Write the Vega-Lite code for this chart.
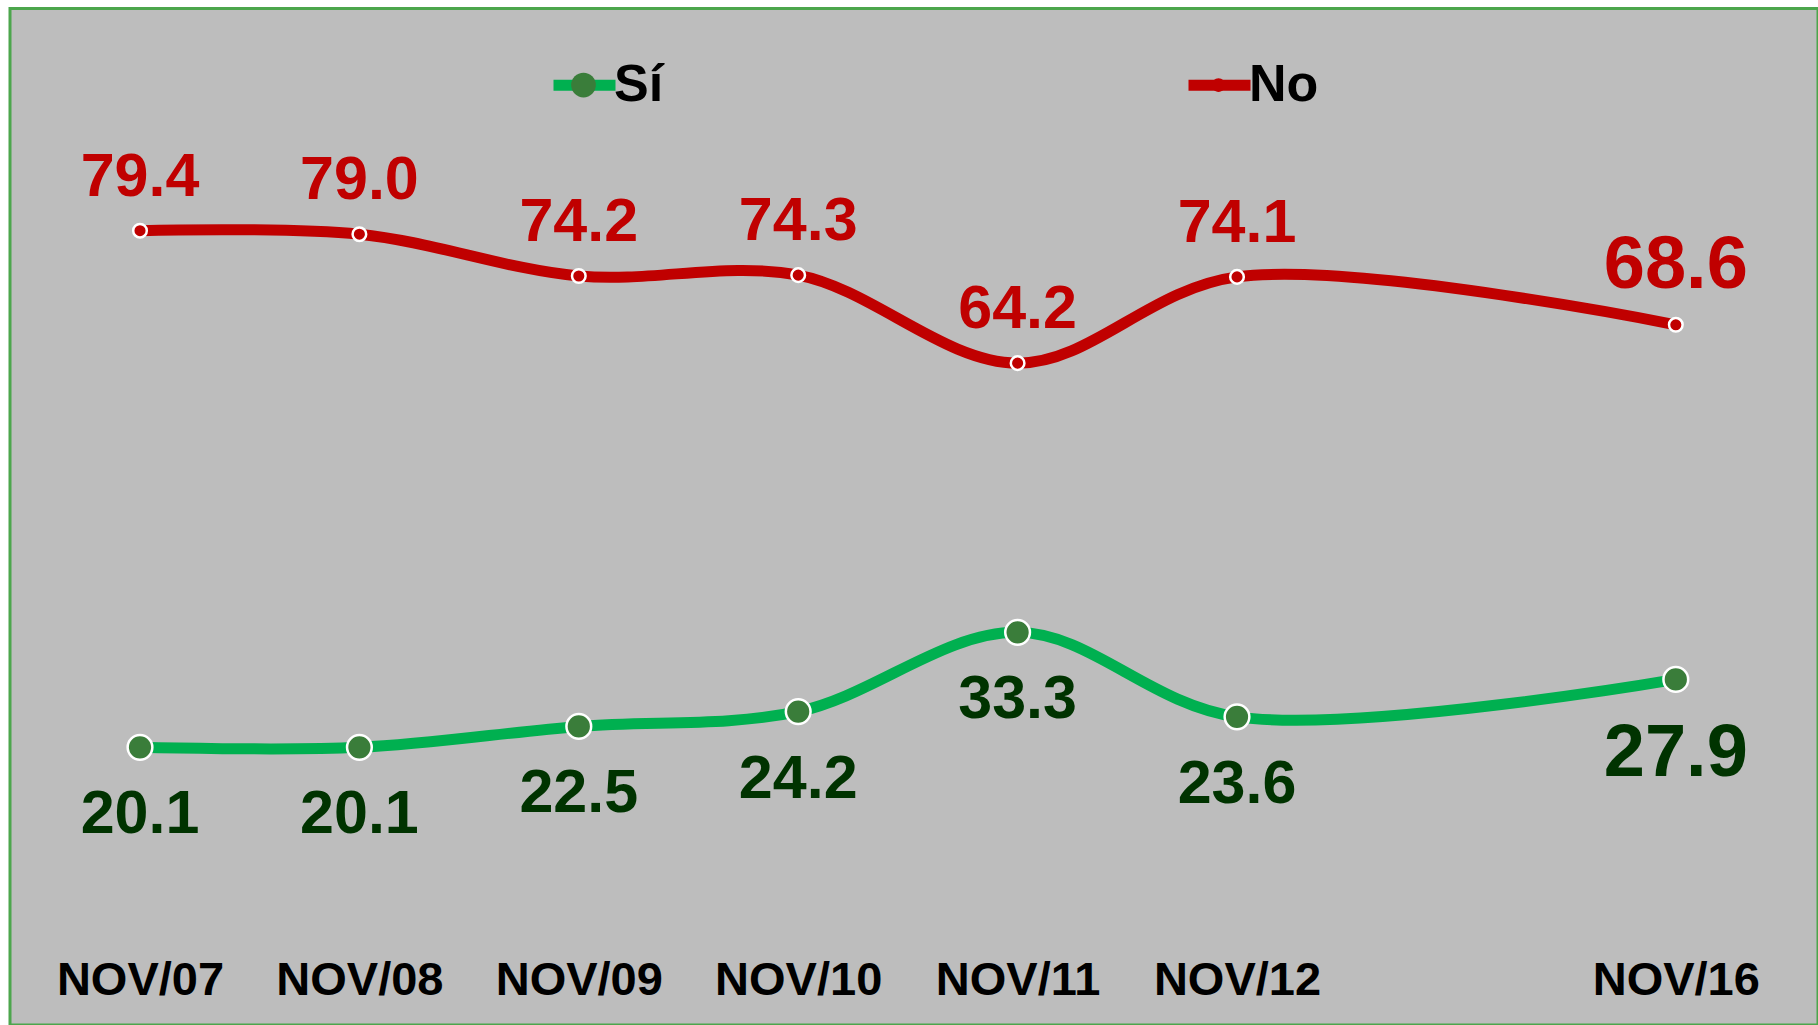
{
  "$schema": "https://vega.github.io/schema/vega-lite/v6.json",
  "autosize": "none",
  "width": 1808,
  "height": 1016.5,
  "padding": {"left": 10, "top": 8.5, "right": 0, "bottom": 0},
  "background": "#ffffff",
  "config": {
    "view": {"fill": "#BDBDBD", "stroke": "#4CA64C", "strokeWidth": 3},
    "font": "Liberation Sans"
  },
  "data": {
    "values": [
      {"fecha": "NOV/07", "serie": "Sí", "valor": 20.1},
      {"fecha": "NOV/08", "serie": "Sí", "valor": 20.1},
      {"fecha": "NOV/09", "serie": "Sí", "valor": 22.5},
      {"fecha": "NOV/10", "serie": "Sí", "valor": 24.2},
      {"fecha": "NOV/11", "serie": "Sí", "valor": 33.3},
      {"fecha": "NOV/12", "serie": "Sí", "valor": 23.6},
      {"fecha": "NOV/16", "serie": "Sí", "valor": 27.9},
      {"fecha": "NOV/07", "serie": "No", "valor": 79.4},
      {"fecha": "NOV/08", "serie": "No", "valor": 79.0},
      {"fecha": "NOV/09", "serie": "No", "valor": 74.2},
      {"fecha": "NOV/10", "serie": "No", "valor": 74.3},
      {"fecha": "NOV/11", "serie": "No", "valor": 64.2},
      {"fecha": "NOV/12", "serie": "No", "valor": 74.1},
      {"fecha": "NOV/16", "serie": "No", "valor": 68.6}
    ]
  },
  "encoding": {
    "x": {
      "field": "fecha",
      "type": "ordinal",
      "scale": {
        "type": "point",
        "domain": ["NOV/07", "NOV/08", "NOV/09", "NOV/10", "NOV/11", "NOV/12", " ", "NOV/16"],
        "padding": 0.6203,
        "align": 0.4776
      },
      "axis": {
        "title": null,
        "orient": "bottom",
        "domain": false,
        "ticks": false,
        "tickSize": 0,
        "grid": false,
        "labelAngle": 0,
        "labelFontSize": 47,
        "labelFontWeight": "bold",
        "labelFont": "Liberation Sans",
        "labelColor": "#000000",
        "labelBaseline": "alphabetic",
        "labelPadding": -31,
        "labelOverlap": false
      }
    },
    "y": {
      "field": "valor",
      "type": "quantitative",
      "scale": {"domain": [-11.77, 104.905], "nice": false, "zero": false},
      "axis": null
    }
  },
  "layer": [
    {
      "mark": {"type": "line", "interpolate": "catmull-rom", "strokeWidth": 11, "strokeCap": "round"},
      "encoding": {
        "stroke": {
          "field": "serie",
          "type": "nominal",
          "sort": ["Sí", "No"],
          "scale": {"range": ["#00B050", "#C00000"]},
          "legend": {
            "title": null,
            "orient": "none",
            "legendX": 538,
            "legendY": 40,
            "direction": "horizontal",
            "columns": 2,
            "columnPadding": 502,
            "symbolType": "stroke",
            "symbolSize": 3844,
            "symbolStrokeWidth": 11,
            "labelFontSize": 52,
            "labelFontWeight": "bold",
            "labelFont": "Liberation Sans",
            "labelColor": "#000000",
            "labelOffset": -7
          }
        }
      }
    },
    {
      "mark": {"type": "point", "filled": true, "opacity": 1, "size": 610, "stroke": "#ffffff", "strokeWidth": 2.5},
      "encoding": {
        "fill": {
          "field": "serie",
          "type": "nominal",
          "scale": {"domain": ["Sí", "No"], "range": ["#3A7D3A", "#C00000"]},
          "legend": {
            "title": null,
            "orient": "none",
            "legendX": 547.5,
            "legendY": 50.6,
            "direction": "horizontal",
            "columns": 2,
            "columnPadding": 531,
            "symbolSize": 610,
            "symbolStrokeColor": "#ffffff",
            "symbolStrokeWidth": 2.5,
            "symbolOpacity": 1,
            "labelFontSize": 52,
            "labelFontWeight": "bold",
            "labelFont": "Liberation Sans",
            "labelOpacity": 0,
            "labelOffset": 2
          }
        },
        "shape": {
          "field": "serie",
          "type": "nominal",
          "scale": {"domain": ["Sí", "No"], "range": ["circle", "M-0.55,0A0.55,0.55,0,1,1,0.55,0A0.55,0.55,0,1,1,-0.55,0Z"]},
          "legend": {
            "title": null,
            "orient": "none",
            "legendX": 547.5,
            "legendY": 50.6,
            "direction": "horizontal",
            "columns": 2,
            "columnPadding": 531,
            "symbolSize": 610,
            "symbolStrokeColor": "#ffffff",
            "symbolStrokeWidth": 2.5,
            "symbolOpacity": 1,
            "labelFontSize": 52,
            "labelFontWeight": "bold",
            "labelFont": "Liberation Sans",
            "labelOpacity": 0,
            "labelOffset": 2
          }
        }
      }
    },
    {
      "transform": [{"filter": "datum.serie == 'No' && datum.fecha != 'NOV/16'"}],
      "mark": {"type": "text", "fontSize": 61, "fontWeight": "bold", "font": "Liberation Sans", "color": "#C00000", "baseline": "alphabetic", "align": "center", "dy": -35},
      "encoding": {"text": {"field": "valor", "type": "quantitative", "format": ".1f"}}
    },
    {
      "transform": [{"filter": "datum.serie == 'No' && datum.fecha == 'NOV/16'"}],
      "mark": {"type": "text", "fontSize": 74, "fontWeight": "bold", "font": "Liberation Sans", "color": "#C00000", "baseline": "alphabetic", "align": "center", "dy": -37},
      "encoding": {"text": {"field": "valor", "type": "quantitative", "format": ".1f"}}
    },
    {
      "transform": [{"filter": "datum.serie == 'Sí' && datum.fecha != 'NOV/16'"}],
      "mark": {"type": "text", "fontSize": 61, "fontWeight": "bold", "font": "Liberation Sans", "color": "#003300", "baseline": "alphabetic", "align": "center", "dy": 86},
      "encoding": {"text": {"field": "valor", "type": "quantitative", "format": ".1f"}}
    },
    {
      "transform": [{"filter": "datum.serie == 'Sí' && datum.fecha == 'NOV/16'"}],
      "mark": {"type": "text", "fontSize": 74, "fontWeight": "bold", "font": "Liberation Sans", "color": "#003300", "baseline": "alphabetic", "align": "center", "dy": 97},
      "encoding": {"text": {"field": "valor", "type": "quantitative", "format": ".1f"}}
    }
  ]
}
